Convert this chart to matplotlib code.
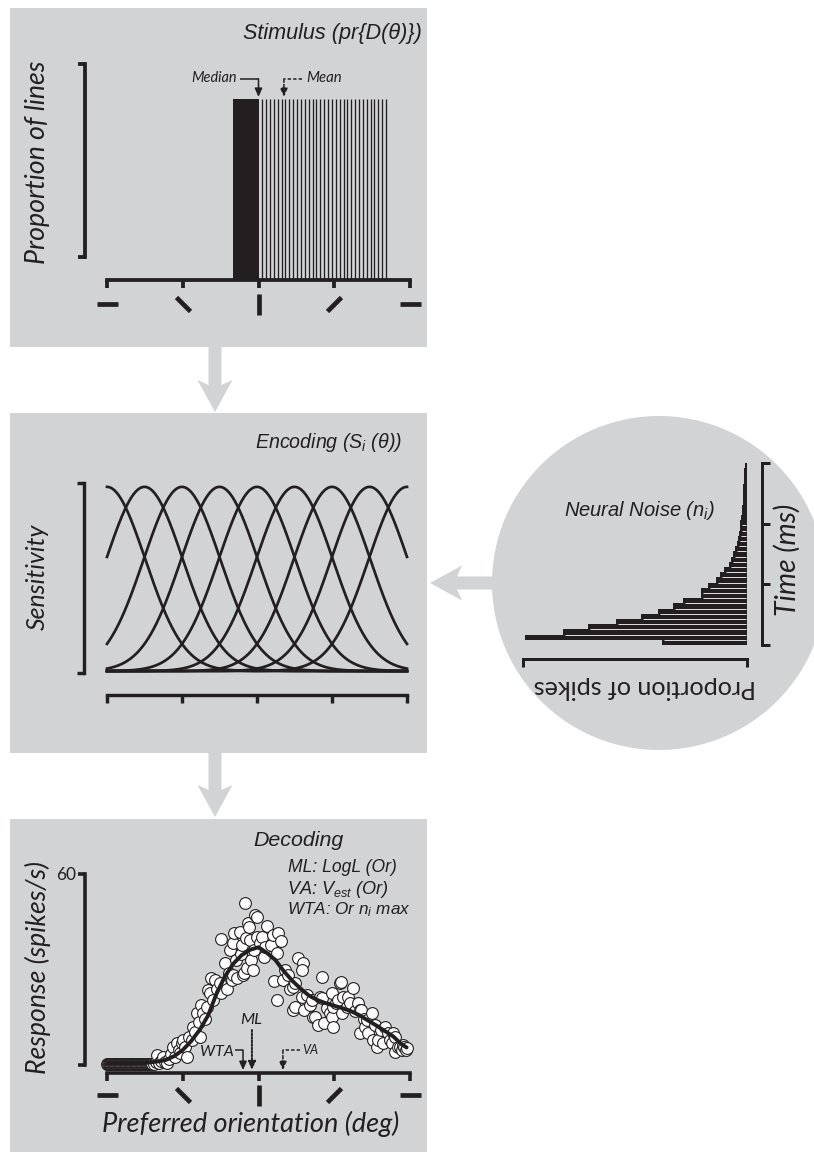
import numpy as np
import matplotlib
matplotlib.use('Agg')
import matplotlib.pyplot as plt
from matplotlib.patches import Rectangle, Circle, Polygon
from matplotlib.markers import MarkerStyle
from matplotlib.transforms import Affine2D, blended_transform_factory

# ------------------------------------------------------------------ data
orient_ticks = [-90, -45, 0, 45, 90]

# Stimulus: densely packed block of lines + individual line orientations
stim_block = [-15.2, 0.3]
stim_lines = [2.2, 4.5, 6.8, 9.1, 11.4, 13.7, 16.0, 18.3, 20.6, 22.9, 25.2,
              27.5, 29.8, 32.1, 34.4, 36.7, 39.0, 41.3, 43.6, 45.9, 48.2, 50.5,
              52.8, 55.1, 57.4, 59.7, 62.0, 64.3, 66.6, 68.9, 71.2, 73.5, 75.8]
stim_height = 0.823
stim_median = 0.0
stim_mean = 15.1

# Encoding: preferred orientations of the channels and tuning width (deg)
pref_orients = [-90, -67.5, -45, -22.5, 0, 22.5, 45, 67.5, 90]
tuning_width = 23.0

# Neural noise: spike proportion per time bin (bottom bin first)
spike_prop = [85, 222, 184, 159, 131, 106, 89, 74, 64, 46, 46, 39, 31, 27, 23,
              18, 16, 14, 12, 10, 9, 8, 7, 7, 6, 5, 5, 4.3, 4, 3.7, 3.7, 3.3,
              3, 2.7, 2]

# Decoding: population response (silent neurons first, then responsive ones)
silent_orient = [-90, -89.5, -89, -88.5, -88, -87.5, -87, -86.5, -86, -85.5,
                 -85, -84.5, -84, -83.5, -83, -82.5, -82, -81.5, -81, -80.5,
                 -80, -79.5, -79, -78.5, -78, -77.5, -77, -76.5, -76, -75.5,
                 -75, -74.5, -74, -73.5, -73, -72.5, -72, -71.5, -71, -70.5,
                 -70, -69.5, -69, -68.5, -68, -67.5, -67, -66.5, -66, -65.5,
                 -65, -64.5, -64, -63.5, -63]
silent_rate = [0.3, 0.3, 0.3, 0.3, 0.3, 0.3, 0.3, 0.3, 0.3, 0.3,
               0.3, 0.3, 0.3, 0.3, 0.3, 0.3, 0.3, 0.3, 0.3, 0.3,
               0.3, 0.3, 0.3, 0.3, 0.3, 0.3, 0.3, 0.3, 0.3, 0.3,
               0.3, 0.3, 0.3, 0.3, 0.3, 0.3, 0.3, 0.3, 0.3, 0.3,
               0.3, 0.3, 0.3, 0.3, 0.3, 0.3, 0.3, 0.3, 0.3, 0.3,
               0.3, 0.3, 0.3, 0.3, 0.3]
resp_orient = [-62, -61, -60.3, -59, -58, -56.7, -55.5, -54.4, -53, -52, -50.8,
               -49.5, -48.4, -47.5, -46.6, -45.5, -44.9, -43.5, -42.5, -41.5,
               -39.5, -38.9, -37.5, -36.5, -35.5, -34.8, -34.0, -33.0, -31.8,
               -30.6, -30.0, -28.8, -28.3, -27.0, -25.8, -24.5, -22.9, -22.5,
               -22.3, -19.9, -18.7, -17.5, -16.9, -15.8, -15.2, -15.2, -14.6,
               -13.5, -12.8, -11.0, -10.2, -9.6, -9.2, -8.6, -8.0, -7.2, -6.8,
               -6.2, -5.6, -5.1, -4.2, -3.3, -2.5, -2.1, -0.8, -0.9, 0.9, 2.1,
               3.0, 4.0, 5.3, 7.4, 8.6, 9.2, 11.0, 11.0, 11.6, 13.4, 14.5, 16.0,
               17.5, 19.0, 20.5, 20.5, 21.7, 21.7, 23.5, 26.4, 25.8, 25.8, 27.0,
               29.0, 30.5, 31.8, 32.4, 33.6, 35.3, 36.5, 37.7, 37.7, 38.7, 40.5,
               42.5, 43.7, 43.7, 44.2, 44.2, 46.0, 47.2, 48.4, 49.0, 49.6, 50.2,
               52.6, 53.2, 54.3, 56.1, 57.5, 59.1, 60.3, 61.0, 60.3, 62.5, 63.3,
               64.4, 65.0, 67.4, 68.0, 69.0, 70.4, 71.0, 72.5, 73.9, 75.1, 76.9,
               78.0, 79.3, 79.9, 81.1, 81.1, 82.9, 84.0, 85.2, 85.8, 86.5, 87.5,
               88.5]
resp_rate = [0.4, 0.8, 3.1, 0.6, 1.2, 2.5, 1.0, 0.6, 2.0, 3.4, 5.7,
             2.6, 6.9, 4.8, 3.8, 6.9, 7.9, 5.5, 2.5, 8.8,
             7.9, 11.9, 10.5, 16.4, 13.5, 8.8, 18.9, 16.4, 14.5,
             18.2, 23.6, 22.6, 27.4, 20.4, 26.7, 24.0, 25.8, 22.6,
             39.7, 32.1, 24.0, 29.0, 36.2, 26.7, 28.3, 38.4, 41.5,
             33.0, 27.4, 41.8, 35.0, 37.7, 28.3, 28.9, 50.9, 40.0, 30.5,
             44.7, 43.4, 39.3, 33.0, 29.9, 36.0, 47.2, 46.5, 40.3, 38.4, 40.3,
             34.0, 37.0, 43.7, 37.7, 40.9, 26.4, 35.2, 20.4, 41.5, 39.0, 26.7, 30.0,
             28.3, 24.0, 24.5, 17.3, 25.8, 18.2, 33.5, 32.1, 30.0, 21.4, 17.3,
             22.0, 19.0, 20.4, 15.1, 15.1, 12.6, 21.4, 27.7, 21.1, 13.3, 18.0,
             16.4, 22.6, 15.1, 11.9, 18.2, 19.5, 20.4, 25.8, 26.0, 16.4, 21.4,
             18.2, 21.4, 19.5, 24.2, 17.0, 19.5, 17.3, 17.3, 10.1, 14.5, 11.9,
             14.2, 10.1, 16.4, 7.9, 12.5, 5.7, 7.9, 11.0, 6.9, 11.9, 10.1,
             8.0, 6.9, 10.1, 8.8, 4.1, 5.7, 5.7, 4.7, 6.3, 5.5, 4.8,
             5.3]
fit_orient = [-90, -85, -80, -75, -70, -65, -60, -55, -50, -45, -40, -35, -30,
              -25, -20, -15, -10, -5, 0, 5, 10, 15, 20, 25, 30, 35, 40, 45, 50,
              55, 60, 65, 70, 75, 80, 85, 88]
fit_rate = [0.5, 0.5, 0.5, 0.5, 0.6, 0.8, 1.1, 1.6, 2.8, 4.7, 7.5, 11.0, 15.5,
            22.3, 27.8, 31.8, 34.5, 36.2, 37.0, 35.2, 33.0, 29.5, 26.5, 24.0,
            21.8, 20.4, 19.4, 18.6, 17.8, 16.9, 15.6, 14.0, 12.4, 10.7, 9.0,
            6.5, 5.5]
wta_est, ml_est, va_est = -9.2, -3.9, 14.5

# ------------------------------------------------------------------ style
W, H = 814, 1152
PT = 0.72                      # points per pixel at dpi 100
INK = '#231f20'
GRAY = '#d1d3d4'
GILL = ['Lato', 'DejaVu Sans']
HELV = ['Liberation Sans', 'DejaVu Sans']
plt.rcParams['mathtext.fontset'] = 'custom'
plt.rcParams['mathtext.it'] = 'Liberation Sans:italic'
plt.rcParams['mathtext.rm'] = 'Liberation Sans:italic'
plt.rcParams['mathtext.bf'] = 'Liberation Sans:bold'

fig = plt.figure(figsize=(W / 100, H / 100), dpi=100)
fig.patch.set_facecolor('white')

# background layer in pixel coordinates
bg = fig.add_axes([0, 0, 1, 1])
bg.set_xlim(0, W)
bg.set_ylim(H, 0)
bg.axis('off')
for (x0, y0, x1, y1) in [(9.5, 7.5, 427, 347), (9.5, 413, 427, 752.5),
                         (9.5, 818.5, 427, 1152)]:
    bg.add_patch(Rectangle((x0, y0), x1 - x0, y1 - y0, fc=GRAY, ec='none'))
bg.add_patch(Circle((659, 583), 167, fc=GRAY, ec='none'))


def down_arrow(xc, y0, ytip):
    hw, sw = 17.5, 6.5
    pts = [(xc - sw, y0), (xc + sw, y0), (xc + sw, ytip - 27),
           (xc + hw, ytip - 32), (xc, ytip), (xc - hw, ytip - 32),
           (xc - sw, ytip - 27)]
    bg.add_patch(Polygon(pts, closed=True, fc=GRAY, ec='none'))


down_arrow(215, 346, 412)
down_arrow(215, 752, 817)
yc, xt = 583, 430
bg.add_patch(Polygon([(500, yc - 6.5), (500, yc + 6.5), (xt + 27, yc + 6.5),
                      (xt + 32, yc + 17.5), (xt, yc), (xt + 32, yc - 17.5),
                      (xt + 27, yc - 6.5)], closed=True, fc=GRAY, ec='none'))

renderer = fig.canvas.get_renderer()


def fit_text(s, x, y, target, fam, style='italic', rot=0, ha='center',
             va='center', fs0=14):
    t = bg.text(x, y, s, fontsize=fs0, family=fam, style=style, rotation=rot,
                ha=ha, va=va, color=INK)
    bb = t.get_window_extent(renderer)
    L = bb.width if rot % 180 == 0 else bb.height
    t.set_fontsize(fs0 * target / L)
    return t


def add_ax(x0, x1, ytop, ybot):
    return fig.add_axes([x0 / W, 1 - ybot / H, (x1 - x0) / W, (ybot - ytop) / H],
                        facecolor='none')


def bracket_axes(ax, left_out, lbounds, bottom_out, lw_px=3.6):
    for s in ['top', 'right']:
        ax.spines[s].set_visible(False)
    ax.spines['left'].set_position(('outward', left_out * PT))
    ax.spines['left'].set_bounds(*lbounds)
    ax.spines['bottom'].set_position(('outward', bottom_out * PT))
    ax.spines['bottom'].set_bounds(-90, 90)
    for s in ['left', 'bottom']:
        ax.spines[s].set_linewidth(lw_px * PT)
        ax.spines[s].set_color(INK)
        ax.spines[s].set_capstyle('projecting')
    ax.set_xticks(orient_ticks)
    ax.set_xticklabels([])
    ax.set_yticks(list(lbounds))
    ax.set_yticklabels([])
    ax.tick_params(axis='x', direction='out', length=8 * PT, width=lw_px * PT,
                   color=INK)
    ax.tick_params(axis='y', direction='out', length=7 * PT, width=lw_px * PT,
                   color=INK)


def orient_icons(ax, y_axes):
    tr = blended_transform_factory(ax.transData, ax.transAxes)
    for th in orient_ticks:
        m = MarkerStyle('|', transform=Affine2D().rotate_deg(-th), capstyle='butt')
        ax.plot([th], [y_axes], marker=m, ms=21 * PT, mew=4.7 * PT, color=INK,
                transform=tr, clip_on=False, ls='none')


def elbow_arrow(ax, x_from, x_to, y_top, y_tip, ls='-', lw=1.1):
    ax.plot([x_from, x_to], [y_top, y_top], color=INK, lw=lw, ls=ls,
            clip_on=False, solid_capstyle='butt')
    ax.annotate('', xy=(x_to, y_tip), xytext=(x_to, y_top),
                arrowprops=dict(arrowstyle='-|>,head_length=0.5,head_width=0.22',
                                color=INK, lw=lw, linestyle=ls,
                                shrinkA=0, shrinkB=0), annotation_clip=False)


# ------------------------------------------------------------------ stimulus
ax1 = add_ax(107, 410, 60, 280)
ax1.set_xlim(-90, 90)
ax1.set_ylim(0, 1)
ax1.bar(stim_block[0], stim_height, width=stim_block[1] - stim_block[0],
        align='edge', color=INK, lw=0)
ax1.vlines(stim_lines, 0, stim_height, color=INK, lw=1.3 * PT)
bracket_axes(ax1, 22, (0.1045, 0.982), 0, lw_px=3.8)
orient_icons(ax1, -0.109)
elbow_arrow(ax1, -11.0, stim_median, 0.914, 0.832)
elbow_arrow(ax1, 25.8, stim_mean, 0.914, 0.832, ls=(0, (2.2, 1.4)))

fit_text('Stimulus (pr{D(θ)})', 422, 33, 180, HELV, ha='right')
fit_text('Proportion of lines', 38, 162, 205, GILL, rot=90)
fit_text('Median', 237, 78, 46, GILL, ha='right')
fit_text('Mean', 306, 78, 36, GILL, ha='left')

# ------------------------------------------------------------------ encoding
ax2 = add_ax(107, 407, 483, 673)
ax2.set_xlim(-90, 90)
ax2.set_ylim(0, 1)
theta = np.linspace(-90, 90, 721)
for p in pref_orients:
    ax2.plot(theta, np.exp(-0.5 * ((theta - p) / tuning_width) ** 2),
             color=INK, lw=2.7 * PT, clip_on=False)
bracket_axes(ax2, 23, (-0.0105, 1.021), 22, lw_px=3.4)

fit_text('Encoding ($S_i$ (θ))', 402, 442, 148, HELV, ha='right')
fit_text('Sensitivity', 37, 577, 107, GILL, rot=90)

# ------------------------------------------------------------------ neural noise
ax3 = add_ax(523, 747, 463, 645)
n_bins = len(spike_prop)
ax3.set_xlim(224, 0)
ax3.set_ylim(0, n_bins)
bins = np.arange(n_bins)
ax3.barh(bins, spike_prop, height=1.0, align='edge', color=INK, lw=0)
for i in range(1, n_bins):
    w = min(spike_prop[i - 1], spike_prop[i])
    if w > 6:
        ax3.hlines(i, 1.5, w - 2, color='white', lw=0.6)
for s in ['top', 'left']:
    ax3.spines[s].set_visible(False)
ax3.spines['right'].set_position(('outward', 15 * PT))
ax3.spines['right'].set_bounds(0, n_bins)
ax3.spines['bottom'].set_position(('outward', 14 * PT))
ax3.spines['bottom'].set_bounds(0, 224)
for s in ['right', 'bottom']:
    ax3.spines[s].set_linewidth(3.0 * PT)
    ax3.spines[s].set_color(INK)
    ax3.spines[s].set_capstyle('projecting')
ax3.yaxis.tick_right()
ax3.set_yticks([0, n_bins / 3, 2 * n_bins / 3, n_bins])
ax3.set_yticklabels([])
ax3.set_xticks([0, 224])
ax3.set_xticklabels([])
ax3.tick_params(axis='both', direction='out', length=8 * PT, width=3.0 * PT,
                color=INK)

fit_text('Neural Noise ($n_i$)', 639, 510, 152, HELV)
fit_text('Time (ms)', 787, 560, 113, GILL, rot=90)
fit_text('Proportion of spikes', 645, 687, 224, GILL, style='normal', rot=180)

# ------------------------------------------------------------------ decoding
ax4 = add_ax(107, 410, 874, 1065)
ax4.set_xlim(-90, 90)
ax4.set_ylim(0, 60)
ax4.scatter(silent_orient, silent_rate, s=72, facecolor='white',
            edgecolor=INK, linewidth=0.8, zorder=2, clip_on=False)
ax4.scatter(resp_orient, resp_rate, s=72, facecolor='white', edgecolor=INK,
            linewidth=0.8, zorder=2, clip_on=False)
ax4.plot(fit_orient, fit_rate, color=INK, lw=2.8, zorder=3, clip_on=False,
         solid_capstyle='round')
bracket_axes(ax4, 22, (0, 60), 8, lw_px=3.6)
ax4.set_yticklabels(['', '60'], family=GILL, fontsize=12.5, color=INK)
ax4.tick_params(axis='y', pad=1)
orient_icons(ax4, -0.157)
elbow_arrow(ax4, -14.2, wta_est, 4.7, -1.6)
elbow_arrow(ax4, 24.6, va_est, 4.7, -1.6, ls=(0, (2.2, 1.4)))
ax4.annotate('', xy=(ml_est, -1.6), xytext=(ml_est, 11.0),
             arrowprops=dict(arrowstyle='-|>,head_length=0.5,head_width=0.22',
                             color=INK, lw=1.4, linestyle=(0, (0.9, 0.9)),
                             shrinkA=0, shrinkB=0), annotation_clip=False)

fit_text('Decoding', 298, 841, 91, HELV)
fit_text('ML: LogL (Or)', 288, 868, 109, HELV, ha='left')
fit_text('VA: $V_{est}$ (Or)', 287, 889, 102, HELV, ha='left')
fit_text('WTA: Or $n_i$ max', 287, 910, 124, HELV, ha='left')
fit_text('Response (spikes/s)', 38, 968, 213, GILL, rot=90)
fit_text('Preferred orientation (deg)', 251, 1124, 298, GILL)
fit_text('WTA', 234, 1052, 34, GILL, ha='right')
fit_text('ML', 251, 1020, 22, GILL)
fit_text('VA', 302, 1050, 16, GILL, ha='left')

fig.savefig('out.png', dpi=100)
